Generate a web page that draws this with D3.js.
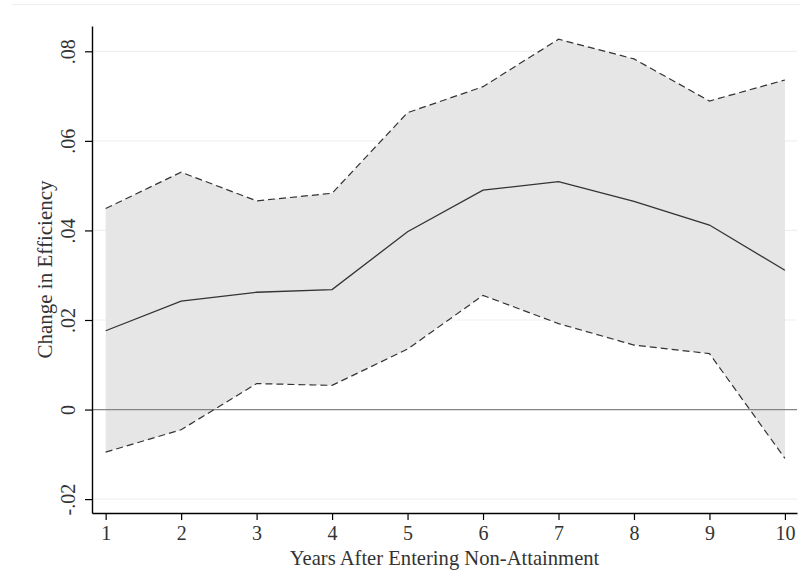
<!DOCTYPE html>
<html>
<head>
<meta charset="utf-8">
<script src="https://cdn.jsdelivr.net/npm/d3@7"></script>
<style>
  body { margin: 0; background: #fff; }
  svg { display: block; font-family: "Liberation Serif", "Times New Roman", serif; }
</style>
</head>
<body>
<svg width="809" height="588"></svg>
<script>
// years after entering non-attainment
var years = [1, 2, 3, 4, 5, 6, 7, 8, 9, 10];
// point estimate and confidence bounds
var estimate = [0.0176, 0.0242, 0.0262, 0.0268, 0.0397, 0.0490, 0.0509, 0.0465, 0.0412, 0.0311];
var upper    = [0.0449, 0.0530, 0.0466, 0.0483, 0.0663, 0.0721, 0.0827, 0.0783, 0.0689, 0.0736];
var lower    = [-0.0095, -0.0045, 0.0058, 0.0054, 0.0135, 0.0255, 0.0192, 0.0144, 0.0125, -0.0109];
var yTicks = [-0.02, 0, 0.02, 0.04, 0.06, 0.08];
var yTickLabels = ["-.02", "0", ".02", ".04", ".06", ".08"];

var svg = d3.select("svg"),
    plotLeft = 92, plotRight = 797, plotTop = 26, plotBottom = 513;

var x = d3.scaleLinear().domain([0.819, 10.16]).range([plotLeft, plotRight]);
var y = d3.scaleLinear().domain([-0.0231, 0.08565]).range([plotBottom, plotTop]);

var data = years.map(function(d, i) {
  return {year: d, est: estimate[i], hi: upper[i], lo: lower[i]};
});

// faint frame line at top
svg.append("line")
    .attr("x1", 12).attr("x2", 800).attr("y1", 4.5).attr("y2", 4.5)
    .attr("stroke", "#eeeeee").attr("stroke-width", 1.2);

// grid lines
svg.append("g").selectAll("line")
  .data(yTicks.filter(function(d) { return d !== 0; }))
  .enter().append("line")
    .attr("x1", plotLeft).attr("x2", plotRight)
    .attr("y1", function(d) { return y(d); })
    .attr("y2", function(d) { return y(d); })
    .attr("stroke", "#f0f0f0").attr("stroke-width", 1.2);

// confidence band
var area = d3.area()
    .x(function(d) { return x(d.year); })
    .y0(function(d) { return y(d.lo); })
    .y1(function(d) { return y(d.hi); });

svg.append("path")
    .datum(data)
    .attr("d", area)
    .attr("fill", "#e6e6e6");

// zero line
svg.append("line")
    .attr("x1", plotLeft).attr("x2", plotRight)
    .attr("y1", y(0)).attr("y2", y(0))
    .attr("stroke", "#858585").attr("stroke-width", 1.2);

function lineOf(key) {
  return d3.line()
    .x(function(d) { return x(d.year); })
    .y(function(d) { return y(d[key]); });
}

svg.append("path").datum(data)
    .attr("d", lineOf("hi"))
    .attr("fill", "none").attr("stroke", "#333").attr("stroke-width", 1.2)
    .attr("stroke-dasharray", "7,4");

svg.append("path").datum(data)
    .attr("d", lineOf("lo"))
    .attr("fill", "none").attr("stroke", "#333").attr("stroke-width", 1.2)
    .attr("stroke-dasharray", "7,4");

svg.append("path").datum(data)
    .attr("d", lineOf("est"))
    .attr("fill", "none").attr("stroke", "#333").attr("stroke-width", 1.3);

// x axis
var xAxis = svg.append("g")
    .attr("transform", "translate(0," + plotBottom + ")")
    .call(d3.axisBottom(x).tickValues(years).tickFormat(d3.format("d")).tickSize(7).tickSizeOuter(0));
xAxis.select(".domain").attr("stroke", "#000").attr("stroke-width", 1.4);
xAxis.selectAll(".tick line").attr("stroke", "#000").attr("stroke-width", 1.2);
xAxis.selectAll(".tick text")
    .attr("font-family", "Liberation Serif, serif")
    .attr("font-size", 20).attr("fill", "#333").attr("y", 13);

// y axis
var yAxis = svg.append("g")
    .attr("transform", "translate(" + plotLeft + ",0)")
    .call(d3.axisLeft(y).tickValues(yTicks).tickSize(7).tickSizeOuter(0)
      .tickFormat(function(d, i) { return yTickLabels[i]; }));
yAxis.select(".domain").attr("stroke", "#000").attr("stroke-width", 1.4);
yAxis.selectAll(".tick line").attr("stroke", "#000").attr("stroke-width", 1.2);
yAxis.selectAll(".tick text")
    .attr("font-family", "Liberation Serif, serif")
    .attr("font-size", 20).attr("fill", "#333")
    .attr("x", null).attr("dy", null)
    .attr("text-anchor", "middle")
    .attr("transform", "translate(-17,0) rotate(-90)");

// axis titles
svg.append("text")
    .attr("x", (plotLeft + plotRight) / 2).attr("y", 564.5)
    .attr("text-anchor", "middle")
    .attr("font-size", 20.6).attr("fill", "#333")
    .text("Years After Entering Non-Attainment");

svg.append("text")
    .attr("transform", "translate(52," + (plotTop + plotBottom) / 2 + ") rotate(-90)")
    .attr("text-anchor", "middle")
    .attr("font-size", 21).attr("fill", "#333")
    .text("Change in Efficiency");
</script>
</body>
</html>
